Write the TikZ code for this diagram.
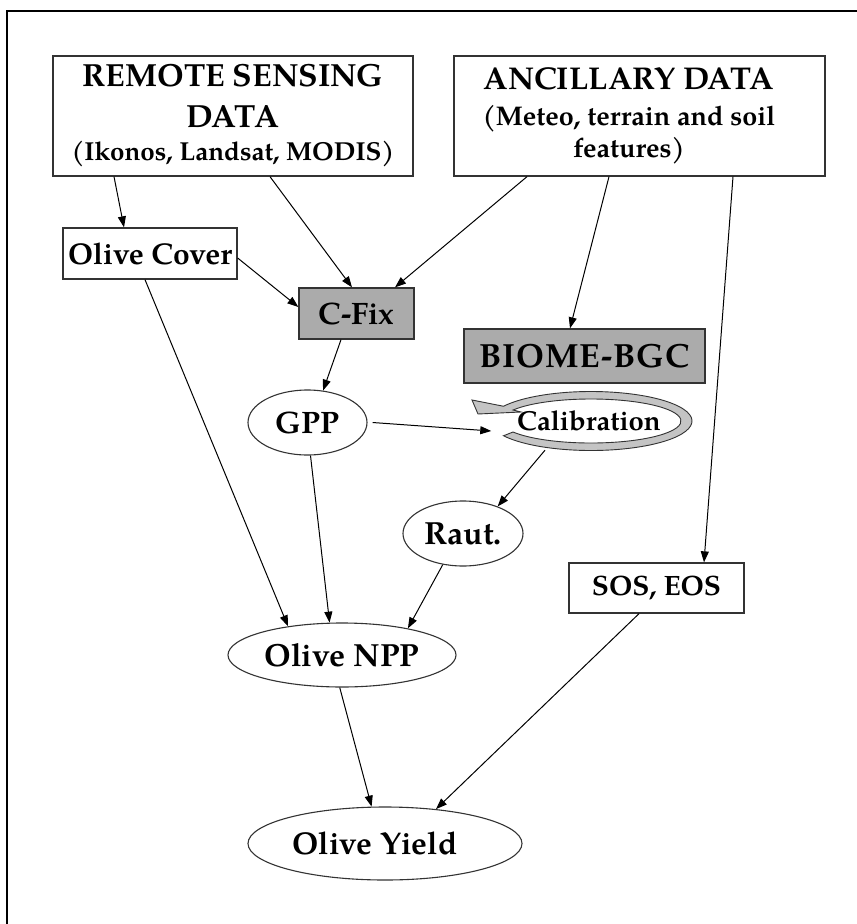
\documentclass[tikz,border=0pt]{standalone}
\usepackage{fontspec}
\setmainfont{texgyrepagella}[Extension=.otf, UprightFont=*-regular, BoldFont=*-bold, ItalicFont=*-italic, BoldItalicFont=*-bolditalic]
\usetikzlibrary{arrows.meta,shapes.geometric,calc}
\definecolor{boxgray}{HTML}{ABABAB}
\definecolor{ringgray}{HTML}{C4C4C4}
\definecolor{edgegray}{HTML}{333333}
\newcommand{\fsz}[1]{\fontsize{#1}{40}\selectfont}
\begin{document}
\begin{tikzpicture}[x=1pt,y=-1pt,
  lbl/.style={font=\bfseries\fsz{31}},
  box/.style={draw=edgegray, line width=1.3pt, rectangle, inner sep=0pt},
  oval/.style={draw=edgegray, line width=1.1pt, ellipse, inner sep=0pt},
  conn/.style={line width=1pt, -{Triangle[length=11pt,width=8pt]}},
]
\useasboundingbox (0,0) rectangle (857,924);
\fill[white] (0,0) rectangle (857,924);
% outer frame (left and top)
\draw[line width=2.4pt] (7,930) -- (7,11) -- (862,11);

% top boxes
\node[box, minimum width=360pt, minimum height=120pt, align=center, font=\bfseries\fsz{32}] (rs) at (233,116)
  {REMOTE SENSING\\[1pt]DATA\\[-7pt]{\fsz{26}(Ikonos, Landsat, MODIS)}};
\node[box, minimum width=371pt, minimum height=120pt] (anc) at (639.5,116) {};
\node[font=\bfseries\fsz{31.5}, align=center, inner sep=0pt] (ancT) at (629,116)
  {ANCILLARY DATA\\[-4pt]{\fsz{27}(Meteo, terrain and soil}\\[-8pt]{\fsz{27}features)}};

% middle
\node[box, minimum width=174pt, minimum height=51pt, font=\bfseries\fsz{30}] (cover) at (150,253.5) {Olive Cover};
\node[box, fill=boxgray, minimum width=115pt, minimum height=51pt, lbl] (cfix) at (356.5,313.5) {C-Fix};
\node[box, fill=boxgray, minimum width=241pt, minimum height=54pt, font=\bfseries\fsz{33.5}\addfontfeature{LetterSpace=3}] (biome) at (584.5,356) {BIOME-BGC};
\node[oval, minimum width=119pt, minimum height=65pt, lbl] (gpp) at (307.5,422.5) {GPP};

% calibration ring
\coordinate (C) at (591,421);
\filldraw[fill=ringgray, draw=edgegray, line width=0.9pt]
  ($(C)+(150:101 and 29.5)$) arc[start angle=150, end angle=-150, x radius=101, y radius=29.5]
  -- (472,400) -- (478,414) -- (521,412)
  -- ($(C)+(-150:90 and 22)$) arc[start angle=-150, end angle=150, x radius=90, y radius=22]
  -- cycle;
\node[ellipse, minimum width=196pt, minimum height=58pt, inner sep=0pt,
      font=\bfseries\fsz{27.5}] (calib) at (589,421) {Calibration};

\node[oval, minimum width=120pt, minimum height=65pt, font=\bfseries\fsz{32}] (raut) at (463,533.5) {Raut.};
\node[box, minimum width=175pt, minimum height=50pt, font=\bfseries\fsz{28}] (sos) at (656.5,588) {SOS, EOS};
\node[oval, minimum width=228pt, minimum height=64pt, font=\bfseries\fsz{32}] (npp) at (342,655) {Olive NPP};
\node[oval, minimum width=274pt, minimum height=73pt, font=\bfseries\fsz{31.5}] (yield) at (385,843.5) {Olive Yield\hspace*{20pt}};

% connectors
\draw[conn] ([xshift=-119pt]rs.south) -- ([xshift=-26pt]cover.north);
\draw[conn] ([xshift=37pt]rs.south) -- ([xshift=-4.5pt]cfix.north);
\draw[conn] ([xshift=-112.5pt]anc.south) -- ([xshift=38.5pt]cfix.north);
\draw[conn] ([yshift=-4.5pt]cover.east) -- ([yshift=6.5pt]cfix.west);
\draw[conn] ([xshift=-30.5pt]anc.south) -- ([xshift=-14.5pt]biome.north);
\draw[conn] ([xshift=93.5pt]anc.south) -- ([xshift=47.5pt]sos.north);
\draw[conn] ([xshift=-15.5pt]cfix.south) -- (gpp.64);
\draw[conn] ([xshift=5pt]gpp.east) -- ([xshift=4pt,yshift=-10pt]calib.west);
\draw[conn] ([xshift=-44pt]calib.south) -- (raut.38);
\draw[conn] ([xshift=3pt]gpp.south) -- (npp.111);
\draw[conn] (raut.237) -- (npp.22);
\draw[conn] ([xshift=-5pt]cover.south) -- (npp.152);
\draw[conn] (npp.266) -- (yield.110);
\draw[conn] ([xshift=-17.5pt]sos.south) -- (yield.34);
\end{tikzpicture}
\end{document}
